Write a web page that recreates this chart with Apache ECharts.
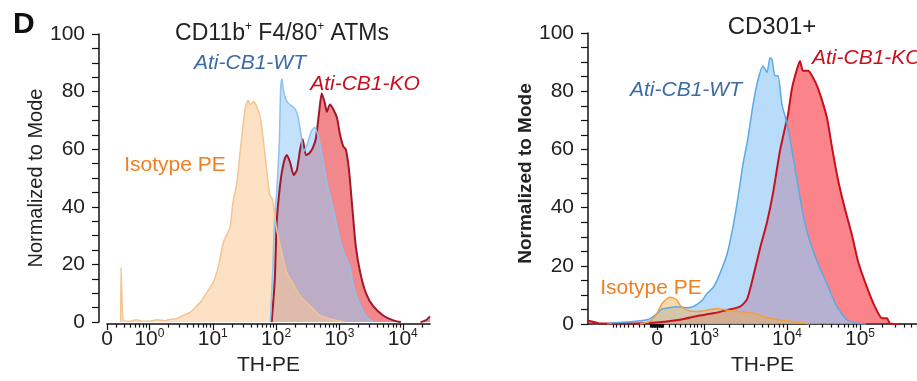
<!DOCTYPE html>
<html><head><meta charset="utf-8">
<script src="https://cdn.jsdelivr.net/npm/echarts@6/dist/echarts.min.js"></script>
<style>html,body{margin:0;padding:0;background:#fff}#c{width:917px;height:381px}</style>
</head><body><div id="c"></div>
<script>
// ---------- Left panel: CD11b+ F4/80+ ATMs (x in log decades, 0 at -0.67) ----------
const leftIsoX = [-0.455,-0.448,-0.43,-0.41,-0.3,-0.2,-0.1,0.0,0.12,0.25,0.33,0.42,0.48,0.56,0.64,0.72,0.8,0.9,1.0,1.06,1.11,1.17,1.27,1.32,1.38,1.43,1.48,1.52,1.56,1.59,1.62,1.64,1.69,1.75,1.80,1.85,1.90,1.94,2.01,2.06,2.11,2.17,2.25,2.29,2.38,2.54,2.69,2.9,3.09];
const leftIsoY = [0,19,6,0.5,0.3,0.8,0.3,0.3,0.8,0.5,1,1.2,1.7,2.6,3.4,5,6.8,10,13.5,17,21.4,28,32.7,41.7,48.4,58.6,68.7,75,77,75.5,76,76.6,75,71,63,53,44,42.8,32,27,22,17,14,12.4,9,5.6,2.3,0.8,0];
const leftWTX = [1.91,1.95,1.98,2.01,2.05,2.07,2.09,2.12,2.17,2.22,2.30,2.35,2.40,2.43,2.48,2.56,2.61,2.67,2.72,2.80,2.90,3.01,3.12,3.17,3.22,3.33,3.43,3.54];
const leftWTY = [0,20,38,45,62,80,84.5,80,76.5,75.5,74,71,64,59,61,66.4,67.6,64,58.6,48.4,39.4,28,21.4,19,12.4,5.6,1.7,0];
const leftKOX = [1.93,1.98,2.01,2.05,2.09,2.14,2.17,2.22,2.28,2.33,2.38,2.42,2.47,2.52,2.58,2.63,2.68,2.72,2.77,2.80,2.85,2.90,2.96,3.01,3.06,3.10,3.15,3.21,3.26,3.33,3.42,3.53,3.69,3.85,3.97,4.1,4.28,4.36,4.43];
const leftKOY = [0,15,35,45,52,57,58,55.5,51,53,60,63.5,58,58.5,60.5,64,73,79.4,76,73,75.5,74,71,65,61,60,53,38,26,17,10,5.6,2.3,0.6,0,null,0,0.6,2];
const leftTickPos = [-0.67,0,1,2,3,4];
const leftTickText = ['0','10^0','10^1','10^2','10^3','10^4'];

// ---------- Right panel: CD301+ (x in biexponential display units, 0 at 0) ----------
const rightIsoX = [-17,-7,0,5,10,13,16,20,23,30,40,50,60,70,83,96,106,123,140,153];
const rightIsoY = [0,0.9,3.7,7,8.7,9.2,9,8.2,6.5,4.8,4.3,4.8,5.4,4.8,4.3,3.7,2.6,1.4,0.7,0];
const rightWTX = [-50,-44,-27,-10,-4,0,4,10,20,30,36,40,43,46,50,56,60,66,70,73,78,83,86,91,96,101,106,110,113,115,118,121,125,130,135,140,145,151,160,170,180,190,200,209];
const rightWTY = [0,0.5,0.8,1.5,2.5,3.7,5,5.5,6,5.6,6,6.8,7.5,8.5,10.5,12.5,15,20,24,28.3,37.2,48,55,64,75.3,84,88.7,86.5,91.5,91,85.3,85.3,75.3,69,59.6,49.6,39.5,30.5,21.6,13.8,5.9,1.4,0.3,0];
const rightKOX = [-69,-64,-57,-37,-7,23,40,56,70,83,90,96,103,110,116,123,128,131,135,140,143,146,151,155,161,170,175,181,188,195,201,210,218,225,230,233,243];
const rightKOY = [1.2,0.8,0.2,0.2,0.4,1.5,2.8,3.7,4.8,6,8.5,16,26,35,45,59.6,67.4,72,81,87.6,90.4,87,87,85.3,81,70.8,60.7,49.6,39.5,30.5,21.6,12.6,5.9,2,2,0.2,0];
const rightTickPos = [0,47,130,203];
const rightTickText = ['0','10^3','10^4','10^5'];

// ---------- axis helpers ----------
const FONT = "'Liberation Sans', Arial, sans-serif";
const LMIN = -0.67, LMAX = 4.43, RMIN = -69, RMAX = 260;
const leftMinor = [];
for (let d = -1; d <= 4; d++) for (let k = 2; k <= 9; k++) {
  const v = d + Math.log10(k);
  if (v > -0.55 && v < LMAX) leftMinor.push(v);
}
function rightPos(v) {
  const s = Math.sign(v), a = Math.abs(v);
  if (a <= 1000) return s * 47 * Math.asinh(a / 535) / Math.asinh(1000 / 535);
  if (a <= 1e4) return s * (47 + 83 * Math.log10(a / 1000));
  if (a <= 1e5) return s * (130 + 73 * Math.log10(a / 1e4));
  return s * (203 + 73 * Math.log10(a / 1e5));
}
const rightMinor = [];
[10, 100, 1000, 10000, 100000].forEach(base => {
  for (let k = 1; k <= 9; k++) {
    const v = base * k;
    if (base >= 1000 && k === 1) continue;
    [v, -v].forEach(x => { const p = rightPos(x); if (p > RMIN && p < RMAX) rightMinor.push(p); });
  }
});

function makeFormatter(pos, text) {
  return function (val) {
    let i = pos.findIndex(p => Math.abs(p - val) < 1e-6);
    if (i < 0) return '';
    const t = text[i];
    if (t.indexOf('^') < 0) return '{b|' + t + '}';
    const parts = t.split('^');
    return '{b|' + parts[0] + '}{s|' + parts[1] + '}';
  };
}
const labelRich = {
  b: { fontSize: 21, fontFamily: FONT, color: '#222', lineHeight: 22, verticalAlign: 'bottom' },
  s: { fontSize: 12, fontFamily: FONT, color: '#222', lineHeight: 12, verticalAlign: 'top' }
};
const axisLineStyle = { color: '#111', width: 1.5 };
const tickStyle = { color: '#111', width: 1.2 };

function yAxisCfg(gi, offset, gap, bold, pad) {
  return {
    gridIndex: gi, type: 'value', position: 'left', min: 0, max: 100, interval: 20, offset: offset,
    axisLine: { show: true, onZero: false, lineStyle: axisLineStyle },
    axisTick: { show: true, length: 7, lineStyle: tickStyle },
    minorTick: { show: true, splitNumber: 4, length: 7, lineStyle: tickStyle },
    splitLine: { show: false },
    axisLabel: { fontSize: 21, fontFamily: FONT, color: '#222', margin: 14 },
    name: 'Normalized to Mode', nameLocation: 'middle', nameGap: gap,
    nameTextStyle: { fontSize: bold ? 19 : 20, fontWeight: bold ? 'bold' : 'normal', fontFamily: FONT, color: '#222', padding: pad }
  };
}
function xMajor(gi, min, max, pos, text, offset, namePad) {
  return {
    gridIndex: gi, type: 'value', position: 'bottom', min: min, max: max, offset: offset,
    axisLine: { show: true, onZero: false, lineStyle: axisLineStyle },
    axisTick: { show: true, length: 6, customValues: pos, lineStyle: tickStyle },
    axisLabel: { customValues: pos, formatter: makeFormatter(pos, text), rich: labelRich, margin: 4 },
    splitLine: { show: false },
    name: 'TH-PE', nameLocation: 'middle', nameGap: 26,
    nameTextStyle: { fontSize: 21, fontFamily: FONT, color: '#222', padding: namePad }
  };
}
function xMinor(gi, min, max, pos, offset) {
  return {
    gridIndex: gi, type: 'value', position: 'bottom', min: min, max: max, offset: offset,
    axisLine: { show: false, onZero: false },
    axisTick: { show: true, length: 3.5, customValues: pos, lineStyle: tickStyle },
    axisLabel: { show: false }, splitLine: { show: false }
  };
}
function pairs(xs, ys) { return xs.map((x, i) => [x, ys[i] === null ? '-' : ys[i]]); }
function histo(name, xi, yi, xs, ys, line, lw, fill) {
  return {
    name: name, type: 'line', xAxisIndex: xi, yAxisIndex: yi, data: pairs(xs, ys),
    showSymbol: false, symbol: 'none', smooth: 0.2, animation: false, connectNulls: false,
    lineStyle: { color: line, width: lw }, areaStyle: { color: fill, opacity: 1 }
  };
}
function txt(x, y, text, color, size, opts) {
  opts = opts || {};
  return {
    type: 'text', x: x, y: y, z: 100,
    style: {
      text: text, fill: color, fontSize: size, fontFamily: FONT,
      fontStyle: opts.italic ? 'italic' : 'normal', fontWeight: opts.bold ? 'bold' : 'normal',
      align: opts.align || 'center', textAlign: opts.align || 'center',
      verticalAlign: 'middle', textVerticalAlign: 'middle', rich: opts.rich
    }
  };
}

const chart = echarts.init(document.getElementById('c'), null, { renderer: 'canvas' });
chart.setOption({
  backgroundColor: '#fff',
  animation: false,
  grid: [
    { left: 107, right: 917 - 430, top: 34, bottom: 381 - 330 },
    { left: 588, right: 0, top: 33, bottom: 381 - 331 }
  ],
  xAxis: [
    xMajor(0, LMIN, LMAX, leftTickPos, leftTickText, 2, [0, 0, 0, 0]),
    xMinor(0, LMIN, LMAX, leftMinor, 2),
    xMajor(1, RMIN, RMAX, rightTickPos, rightTickText, 0, [0, 0, 0, 20]),
    xMinor(1, RMIN, RMAX, rightMinor, 0)
  ],
  yAxis: [
    yAxisCfg(0, 8, 52, false, [0, 0, 0, 0]),
    yAxisCfg(1, 0, 51, true, [0, 0, 0, 10])
  ],
  series: [
    histo('Ati-CB1-KO', 0, 0, leftKOX, leftKOY, '#a3172a', 2, 'rgba(230,40,45,0.55)'),
    histo('Ati-CB1-WT', 0, 0, leftWTX, leftWTY, '#8cc3f0', 1.5, 'rgba(145,200,245,0.55)'),
    histo('Isotype PE', 0, 0, leftIsoX, leftIsoY, '#f5c48f', 1.5, 'rgba(252,200,150,0.55)'),
    histo('Ati-CB1-KO', 2, 1, rightKOX, rightKOY, '#c8101e', 2, 'rgba(245,10,20,0.5)'),
    histo('Ati-CB1-WT', 2, 1, rightWTX, rightWTY, '#5aaae6', 1.5, 'rgba(147,201,247,0.65)'),
    histo('Isotype PE', 2, 1, rightIsoX, rightIsoY, '#f0a040', 1.5, 'rgba(245,170,70,0.45)')
  ],
  graphic: [
    txt(13, 25, 'D', '#111', 30, { bold: true, align: 'left' }),
    txt(282, 33, '{a|CD11b}{s|+}{a| F4/80}{s|+}{a| ATMs}', '#222', 23, {
      rich: { a: { fontSize: 23, fontFamily: FONT, fill: '#222', lineHeight: 25, verticalAlign: 'bottom' },
              s: { fontSize: 12, fontFamily: FONT, fill: '#222', lineHeight: 12, verticalAlign: 'top' } }
    }),
    txt(250, 63, 'Ati-CB1-WT', '#3d6ba5', 21, { italic: true }),
    txt(365, 84, 'Ati-CB1-KO', '#c8101e', 21, { italic: true }),
    txt(175, 165, 'Isotype PE', '#ef8022', 21),
    txt(772, 27, 'CD301+', '#222', 24),
    txt(686, 90, 'Ati-CB1-WT', '#3d6ba5', 21, { italic: true }),
    txt(812, 58, 'Ati-CB1-KO', '#c8101e', 21, { italic: true, align: 'left' }),
    txt(651, 288, 'Isotype PE', '#ef8022', 21)
  ]
});
</script></body></html>
